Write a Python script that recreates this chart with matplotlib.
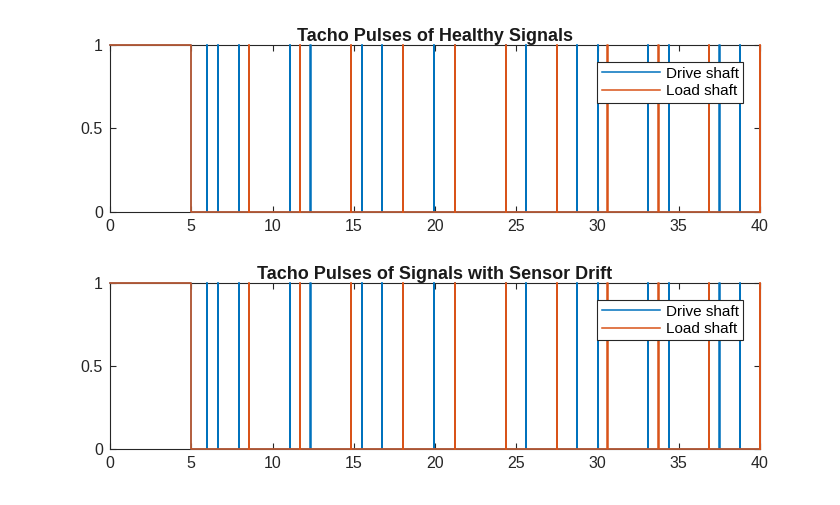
import matplotlib.pyplot as plt
import numpy as np

plt.rcParams['font.family'] = ['Liberation Sans', 'DejaVu Sans']

# pulse times (seconds)
start_high_until = 5.0
drive_pulses = [5.96, 6.62, 7.91, 11.08, 12.33, 15.50, 16.75, 19.95,
                21.20, 24.35, 25.61, 28.73, 30.00, 33.12, 34.39, 37.50, 38.77]
load_pulses = [8.55, 11.70, 14.84, 18.00, 21.20, 24.35, 27.49, 30.61,
               33.75, 36.87, 40.00]
t_end = 40.0
titles = ["Tacho Pulses of Healthy Signals",
          "Tacho Pulses of Signals with Sensor Drift"]
x_ticks = [0, 5, 10, 15, 20, 25, 30, 35, 40]
y_ticks = [0, 0.5, 1]

BLUE = "#0072BD"
ORANGE = "#D95319"


def pulse_train(pulses, high_until, end, w=0.012):
    # signal is high at the start, then low with narrow pulses
    t = [0.0, high_until, high_until]
    y = [1.0, 1.0, 0.0]
    for p in pulses:
        t += [p, p, p + w, p + w]
        y += [0.0, 1.0, 1.0, 0.0]
    t.append(end)
    y.append(0.0)
    return np.array(t), np.array(y)


fig = plt.figure(figsize=(8.4, 5.05), dpi=100)
W, H = 840, 505
boxes = [(110, 45, 760, 212), (110, 283, 760, 449)]

for (l, t, r, b), title in zip(boxes, titles):
    ax = fig.add_axes([l / W, 1 - b / H, (r - l) / W, (b - t) / H])
    td, yd = pulse_train(drive_pulses, start_high_until, t_end)
    tl, yl = pulse_train(load_pulses, start_high_until, t_end)
    ax.plot(td, yd, color=BLUE, lw=1.1, label="Drive shaft", zorder=3, clip_on=False)
    ax.plot(tl, yl, color=ORANGE, lw=1.1, label="Load shaft", zorder=3, clip_on=False)
    ax.set_xlim(0, 40)
    ax.set_ylim(0, 1)
    ax.set_xticks(x_ticks)
    ax.set_yticks(y_ticks)
    ax.set_yticklabels(["0", "0.5", "1"])
    ax.tick_params(direction="in", top=True, right=True, length=4,
                   labelsize=11.5, colors="#262626", width=0.8, pad=5)
    for s in ax.spines.values():
        s.set_color("#262626")
        s.set_linewidth(0.8)
    ax.set_title(title, fontsize=13, fontweight="bold", color="#1a1a1a", pad=3)
    leg = ax.legend(loc="upper right", bbox_to_anchor=(0.974, 0.898),
                    fontsize=11, fancybox=False, framealpha=1,
                    edgecolor="#262626", borderpad=0.3, labelspacing=0.22,
                    handlelength=3.85, handletextpad=0.33, borderaxespad=0)
    leg.get_frame().set_linewidth(0.8)
    leg.set_zorder(5)

fig.savefig("out.png", dpi=100)
